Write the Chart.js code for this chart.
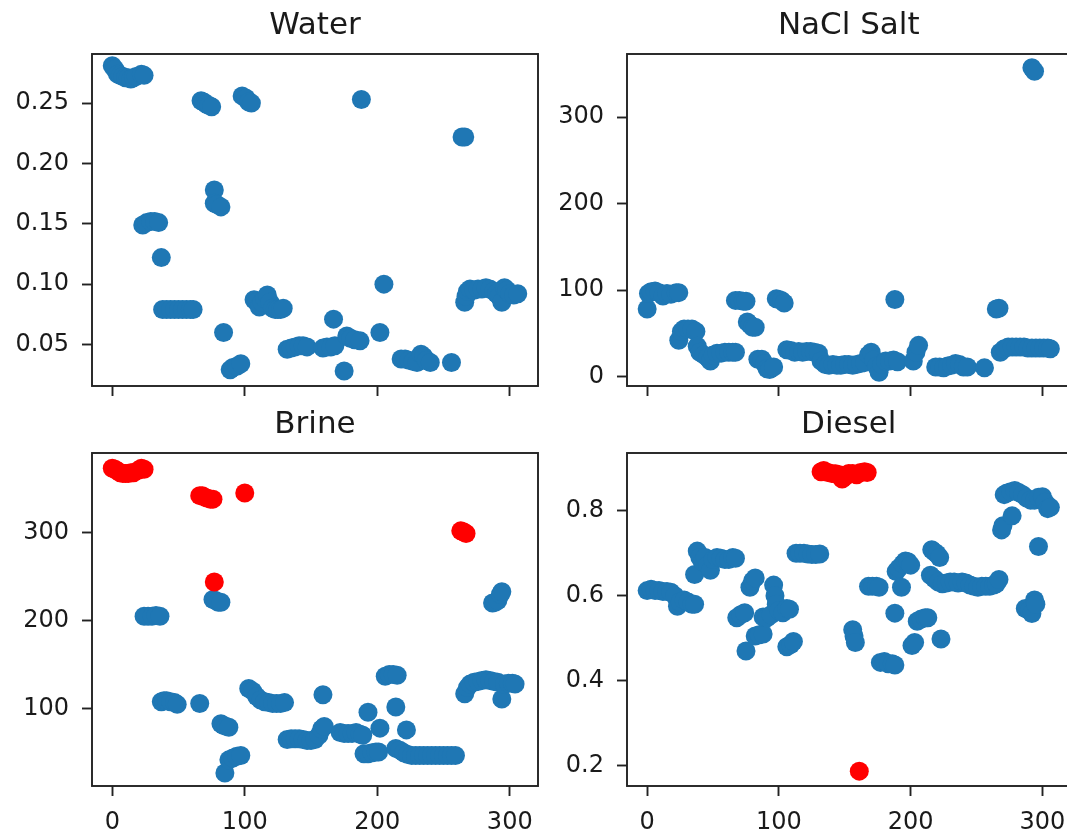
<!DOCTYPE html>
<html>
<head>
<meta charset="utf-8">
<title>Water / NaCl Salt / Brine / Diesel</title>
<script src="https://cdn.jsdelivr.net/npm/chart.js@4.4.1/dist/chart.umd.min.js"></script>
<style>
  html, body { margin: 0; padding: 0; background: #fff; overflow: hidden; }
  #fig { position: relative; width: 1080px; height: 835px; }
  #fig canvas { position: absolute; }
</style>
</head>
<body>
<div id="fig">
  <canvas id="water" width="560" height="420" style="left:0;top:0"></canvas>
  <canvas id="salt" width="540" height="420" style="left:540px;top:0"></canvas>
  <canvas id="brine" width="560" height="435" style="left:0;top:400px"></canvas>
  <canvas id="diesel" width="540" height="435" style="left:540px;top:400px"></canvas>
</div>
<script>
// values, one line per cluster of dots

// shared x axis
const xTicks = [0, 100, 200, 300];
const xLabels = ['0', '100', '200', '300'];

// Water
const waterX = [0, 2, 4, 6, 8, 10, 12, 14, 16, 18, 22, 24,
  23, 26, 29, 32, 35, 37,
  38, 41, 44, 47, 50, 53, 56, 59, 61,
  67, 69, 71, 73, 75, 77, 77, 79, 82, 84,
  89, 91, 94, 97, 98, 101, 103, 105,
  107, 109, 111, 113, 115, 117, 119, 121, 123, 125, 127, 129,
  132, 135, 138, 141, 144, 147, 159, 162, 165, 168, 167,
  175, 177, 180, 183, 187, 188, 202, 205,
  218, 221, 224, 227, 230, 233, 235, 237, 240, 256, 264, 266,
  266, 267, 268, 270, 273, 276, 279, 282, 285, 288, 290, 292, 294, 296, 298, 300, 303, 306];
const waterY = [0.281, 0.278, 0.274, 0.273, 0.272, 0.271, 0.271, 0.270, 0.271, 0.272, 0.274, 0.273,
  0.149, 0.151, 0.152, 0.152, 0.151, 0.122,
  0.079, 0.079, 0.079, 0.079, 0.079, 0.079, 0.079, 0.079, 0.079,
  0.252, 0.251, 0.249, 0.248, 0.247, 0.178, 0.167, 0.166, 0.164, 0.060,
  0.029, 0.031, 0.032, 0.034, 0.256, 0.254, 0.251, 0.250,
  0.087, 0.085, 0.081, 0.085, 0.088, 0.091, 0.085, 0.080, 0.079, 0.079, 0.079, 0.080,
  0.046, 0.047, 0.048, 0.049, 0.049, 0.048, 0.047, 0.048, 0.048, 0.049, 0.071,
  0.028, 0.057, 0.055, 0.054, 0.053, 0.253, 0.060, 0.100,
  0.038, 0.038, 0.037, 0.036, 0.035, 0.042, 0.040, 0.037, 0.035, 0.035, 0.222, 0.222,
  0.085, 0.090, 0.094, 0.096, 0.095, 0.096, 0.096, 0.097, 0.096, 0.094, 0.092, 0.090, 0.085, 0.097, 0.095, 0.092, 0.091, 0.092];
const waterTicks = [0.05, 0.10, 0.15, 0.20, 0.25];
const waterLabels = ['0.05', '0.10', '0.15', '0.20', '0.25'];

// NaCl Salt
const saltX = [0, 1, 3, 6, 9, 12, 15, 18, 22, 24,
  24, 26, 28, 31, 34, 37, 38, 40, 43, 46, 48, 50, 53, 56, 59, 62, 65, 67,
  67, 70, 73, 75, 76, 78, 80, 82,
  84, 87, 89, 91, 93, 96, 98, 100, 102, 104,
  106, 109, 112, 115, 118, 121, 124, 127, 130,
  132, 135, 138, 141, 144, 147, 150, 153, 156, 159, 162, 165, 168, 170, 172, 174, 176, 178, 181, 184, 187, 190,
  188, 202, 204, 206,
  219, 222, 225, 228, 231, 234, 237, 240, 243, 256, 265, 267,
  268, 271, 274, 277, 280, 283, 286, 289, 292, 295, 298, 301, 304, 306,
  292, 294];
const saltY = [78, 96, 98, 99, 97, 93, 96, 95, 97, 97,
  42, 52, 55, 55, 55, 52, 35, 28, 25, 22, 18, 25, 27, 27, 28, 28, 28, 28,
  88, 88, 87, 87, 63, 60, 57, 57,
  20, 20, 15, 9, 8, 11, 90, 89, 88, 85,
  31, 30, 28, 29, 28, 29, 29, 28, 27,
  18, 14, 13, 14, 13, 13, 14, 14, 13, 14, 15, 16, 25, 28, 19, 12, 5, 14, 18, 18, 19, 17,
  89, 18, 28, 36,
  11, 11, 10, 12, 13, 15, 14, 11, 11, 10, 78, 79,
  28, 32, 34, 34, 34, 34, 34, 33, 33, 33, 33, 33, 33, 32,
  357, 353];
const saltTicks = [0, 100, 200, 300];
const saltLabels = ['0', '100', '200', '300'];

// Brine
const brineX = [24, 27, 30, 33, 36,
  37, 39, 41, 44, 47, 49, 66,
  76, 78, 80, 82, 82, 84, 86, 88,
  85, 88, 91, 94, 97,
  103, 106, 109, 112, 115, 118, 121, 124, 127, 130,
  132, 135, 138, 141, 144, 147, 150, 153, 156, 158, 160, 159,
  172, 175, 178, 181, 184, 187, 189, 193,
  190, 193, 196, 199, 201, 202,
  206, 209, 212, 215, 214, 222,
  214, 217, 220, 223, 226, 229, 232, 235, 238, 241, 244, 247, 250, 253, 256, 259,
  266, 268, 270, 273, 276, 279, 282, 285, 288, 291, 294, 296, 299, 302, 304,
  287, 289, 291, 293, 294];
const brineY = [205, 205, 205, 206, 205,
  108, 109, 109, 108, 107, 105, 106,
  224, 223, 221, 221, 83, 81, 80, 79,
  27, 42, 44, 46, 47,
  123, 120, 114, 110, 108, 107, 106, 106, 106, 107,
  65, 66, 66, 66, 65, 64, 64, 65, 70, 77, 80, 116,
  73, 72, 72, 72, 73, 71, 70, 96,
  49, 49, 50, 51, 51, 78,
  137, 139, 139, 138, 102, 76,
  55, 53, 50, 48, 47, 47, 47, 47, 47, 47, 47, 47, 47, 47, 47, 47,
  117, 124, 128, 130, 131, 132, 133, 132, 131, 130, 111, 128, 129, 129, 128,
  220, 221, 223, 230, 233];
const brineRedX = [0, 2, 4, 6, 8, 10, 12, 14, 16, 20, 22, 24,
  66, 68, 70, 72, 74, 76, 77, 100, 263, 265, 267];
const brineRedY = [373, 372, 370, 368, 367, 367, 367, 368, 368, 371, 373, 372,
  342, 342, 340, 339, 338, 338, 244, 345, 302, 301, 299];
const brineTicks = [100, 200, 300];
const brineLabels = ['100', '200', '300'];

// Diesel
const dieselX = [0, 3, 6, 9, 12, 15, 18, 21, 23, 25, 28, 31, 34, 36,
  36, 38, 40, 42, 44, 46, 48, 50, 53, 56, 59, 62, 65, 67,
  68, 71, 74, 75, 78, 80, 82, 82, 85, 88,
  88, 91, 94, 96, 97, 98, 100, 103, 106, 108, 106, 109, 111,
  113, 116, 119, 122, 125, 128, 131,
  156, 157, 158, 168, 171, 174, 176,
  177, 180, 183, 186, 188, 188,
  189, 191, 193, 194, 196, 198, 200,
  201, 203, 205, 208, 211, 213,
  216, 218, 220, 222, 223,
  215, 218, 221, 224, 227, 230, 233, 236, 239, 242, 245, 248, 251, 254, 257, 260, 263, 265, 267,
  269, 270, 277,
  271, 273, 276, 279, 282, 285, 288, 291, 294, 297, 300, 302, 304, 306,
  297, 287, 290, 292, 294, 295];
const dieselY = [0.612, 0.615, 0.612, 0.612, 0.610, 0.610, 0.608, 0.600, 0.575, 0.585, 0.590, 0.585, 0.580, 0.580,
  0.650, 0.705, 0.690, 0.680, 0.690, 0.672, 0.660, 0.685, 0.690, 0.688, 0.685, 0.685, 0.690, 0.688,
  0.548, 0.555, 0.560, 0.470, 0.620, 0.635, 0.642, 0.505, 0.508, 0.510,
  0.550, 0.548, 0.555, 0.625, 0.600, 0.580, 0.565, 0.560, 0.570, 0.568, 0.480, 0.485, 0.492,
  0.700, 0.700, 0.700, 0.698, 0.697, 0.697, 0.698,
  0.520, 0.505, 0.490, 0.622, 0.622, 0.622, 0.620,
  0.443, 0.445, 0.440, 0.440, 0.437, 0.559,
  0.657, 0.665, 0.620, 0.675, 0.682, 0.680, 0.672,
  0.483, 0.490, 0.540, 0.545, 0.548, 0.548,
  0.708, 0.703, 0.698, 0.690, 0.498,
  0.648, 0.640, 0.632, 0.628, 0.630, 0.632, 0.632, 0.630, 0.632, 0.630, 0.625, 0.622, 0.620, 0.622, 0.622, 0.622, 0.625, 0.628, 0.638,
  0.755, 0.765, 0.788,
  0.838, 0.842, 0.845, 0.848, 0.843, 0.838, 0.830, 0.825, 0.825, 0.832, 0.833, 0.820, 0.805, 0.808,
  0.716, 0.570, 0.565, 0.558, 0.590, 0.580];
const dieselRedX = [132, 134, 137, 140, 143, 146, 148, 150, 153, 156, 159, 162, 165, 167, 161];
const dieselRedY = [0.892, 0.895, 0.890, 0.888, 0.887, 0.885, 0.875, 0.880, 0.888, 0.888, 0.885, 0.890, 0.892, 0.890, 0.187];
const dieselTicks = [0.2, 0.4, 0.6, 0.8];
const dieselLabels = ['0.2', '0.4', '0.6', '0.8'];

const blue = '#1f77b4';
const red = '#ff0000';
const ink = '#1a1a1a';
const font = 'DejaVu Sans';

function pts(xs, ys) {
  return xs.map((x, i) => ({ x: x, y: ys[i] }));
}

function dots(xs, ys, color, order) {
  return {
    data: pts(xs, ys),
    backgroundColor: color,
    pointRadius: 9.5,
    pointHoverRadius: 9.5,
    pointBorderWidth: 0,
    order: order,
    clip: 0
  };
}

// matplotlib style box round the plot area
const frame = {
  id: 'frame',
  afterDraw(chart) {
    const { ctx, chartArea: a } = chart;
    ctx.save();
    ctx.strokeStyle = '#222';
    ctx.lineWidth = 1.9;
    ctx.strokeRect(a.left, a.top, a.right - a.left, a.bottom - a.top);
    ctx.restore();
  }
};

// title centred over the plot area, not the whole canvas
const panelTitle = {
  id: 'panelTitle',
  afterDraw(chart, args, opts) {
    const { ctx, chartArea: a } = chart;
    ctx.save();
    ctx.fillStyle = ink;
    ctx.font = '31px "DejaVu Sans"';
    ctx.textAlign = 'center';
    ctx.textBaseline = 'middle';
    ctx.fillText(opts.text, (a.left + a.right) / 2, a.top - 28);
    ctx.restore();
  }
};

const tickGrid = {
  display: true,
  drawOnChartArea: false,
  drawTicks: true,
  tickLength: 10,
  tickWidth: 1.9,
  tickColor: '#222',
  color: '#222'
};

function panel(id, title, datasets, yMin, yMax, yTicks, yLabels, box) {
  return new Chart(document.getElementById(id), {
    type: 'scatter',
    data: { datasets: datasets },
    options: {
      responsive: false,
      animation: false,
      events: [],
      layout: { padding: { left: 0, right: box.right, top: box.top, bottom: 0 } },
      plugins: {
        legend: { display: false },
        tooltip: { enabled: false },
        title: { display: false },
        panelTitle: { text: title }
      },
      scales: {
        x: {
          type: 'linear',
          min: -15.3,
          max: 321.3,
          afterBuildTicks: s => { s.ticks = xTicks.map(v => ({ value: v })); },
          afterFit: s => { s.height = box.xHeight; },
          ticks: {
            display: box.xLabels,
            padding: 12,
            color: ink,
            font: { family: font, size: 24 },
            maxRotation: 0,
            callback: (v, i) => xLabels[i]
          },
          grid: tickGrid,
          border: { display: false }
        },
        y: {
          type: 'linear',
          min: yMin,
          max: yMax,
          afterBuildTicks: s => { s.ticks = yTicks.map(v => ({ value: v })); },
          afterFit: s => { s.width = box.yWidth; },
          ticks: {
            padding: 13,
            color: ink,
            font: { family: font, size: 24 },
            callback: (v, i) => yLabels[i]
          },
          grid: tickGrid,
          border: { display: false }
        }
      }
    },
    plugins: [frame, panelTitle]
  });
}

const topBox = { right: 22, top: 54, yWidth: 92, xHeight: 34, xLabels: false };
const topBoxR = { right: 7, top: 54, yWidth: 87, xHeight: 34, xLabels: false };
const botBox = { right: 22, top: 53, yWidth: 92, xHeight: 49, xLabels: true };
const botBoxR = { right: 7, top: 53, yWidth: 87, xHeight: 49, xLabels: true };

panel('water', 'Water', [dots(waterX, waterY, blue, 1)], 0.0156, 0.2907, waterTicks, waterLabels, topBox);
panel('salt', 'NaCl Salt', [dots(saltX, saltY, blue, 1)], -11, 373, saltTicks, saltLabels, topBoxR);
panel('brine', 'Brine', [dots(brineRedX, brineRedY, red, 0), dots(brineX, brineY, blue, 1)], 12.3, 390.4, brineTicks, brineLabels, botBox);
panel('diesel', 'Diesel', [dots(dieselRedX, dieselRedY, red, 0), dots(dieselX, dieselY, blue, 1)], 0.152, 0.936, dieselTicks, dieselLabels, botBoxR);
</script>
</body>
</html>
